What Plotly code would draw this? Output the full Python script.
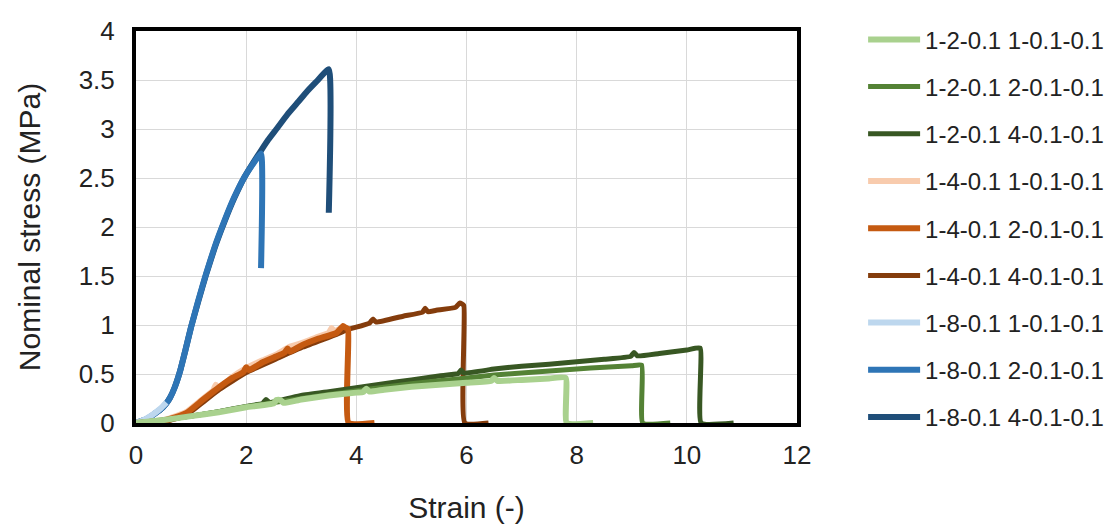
import plotly.graph_objects as go

names = ["1-2-0.1 1-0.1-0.1", "1-2-0.1 2-0.1-0.1", "1-2-0.1 4-0.1-0.1",
         "1-4-0.1 1-0.1-0.1", "1-4-0.1 2-0.1-0.1", "1-4-0.1 4-0.1-0.1",
         "1-8-0.1 1-0.1-0.1", "1-8-0.1 2-0.1-0.1", "1-8-0.1 4-0.1-0.1"]
colors = ["#a9d18e", "#548235", "#385723",
          "#f8cbad", "#c55a11", "#843c0c",
          "#bdd7ee", "#2e75b6", "#1f4e79"]

# 1-2-0.1 series (green)
g1_x = [0, 0.5, 1.0, 1.5, 2.0, 2.5, 2.55, 2.62, 2.68, 3.0, 3.5, 4.0, 4.12, 4.18, 4.24, 4.5, 5.0, 5.5, 6.0,
        6.45, 6.5, 6.56, 7.0, 7.5, 7.8, 7.82, 8.3]
g1_y = [0, 0.03, 0.07, 0.11, 0.16, 0.20, 0.235, 0.235, 0.205, 0.24, 0.28, 0.31, 0.315, 0.35, 0.32, 0.34, 0.37, 0.39, 0.41,
        0.43, 0.46, 0.43, 0.44, 0.455, 0.46, 0, 0]
g2_x = [0, 0.5, 1.0, 1.5, 2.0, 2.5, 3.0, 3.5, 4.0, 4.5, 5.0, 5.5, 6.0, 6.5, 7.0, 7.5, 8.0, 8.5, 9.0, 9.18, 9.2, 9.7]
g2_y = [0, 0.03, 0.07, 0.115, 0.165, 0.21, 0.25, 0.29, 0.33, 0.365, 0.40, 0.43, 0.46, 0.49, 0.51, 0.53, 0.55, 0.57, 0.585, 0.59, 0, 0]
g3_x = [0, 0.5, 1.0, 1.5, 2.0, 2.3, 2.36, 2.42, 3.0, 3.5, 4.0, 4.5, 5.0, 5.5, 5.85, 5.9, 5.95, 6.5, 7.0, 7.5, 8.0, 8.5,
        8.98, 9.04, 9.1, 9.5, 10.0, 10.24, 10.26, 10.85]
g3_y = [0, 0.03, 0.07, 0.115, 0.17, 0.20, 0.24, 0.21, 0.28, 0.32, 0.36, 0.40, 0.44, 0.48, 0.505, 0.54, 0.51, 0.55, 0.58, 0.60, 0.625, 0.65,
        0.68, 0.72, 0.685, 0.71, 0.745, 0.765, 0, 0]

# 1-4-0.1 series (orange)
o1_x = [0, 0.36, 0.6, 0.91, 1.21, 1.4, 1.45, 1.5, 1.75, 2.0, 2.3, 2.55, 2.8, 3.03, 3.3, 3.5, 3.55, 3.6, 3.7]
o1_y = [0, 0.015, 0.045, 0.11, 0.245, 0.33, 0.39, 0.35, 0.47, 0.56, 0.64, 0.70, 0.78, 0.82, 0.88, 0.92, 0.97, 0.935, 0.96]
o2_x = [0, 0.36, 0.6, 0.91, 1.21, 1.52, 1.75, 1.95, 2.0, 2.05, 2.3, 2.55, 2.7, 2.75, 2.8, 3.03, 3.3, 3.64, 3.76, 3.8, 3.85, 3.86, 4.33]
o2_y = [0, 0.01, 0.04, 0.10, 0.235, 0.37, 0.46, 0.52, 0.57, 0.54, 0.62, 0.68, 0.72, 0.76, 0.73, 0.80, 0.86, 0.92, 0.99, 0.975, 0.96, 0, 0]
o3_x = [0, 0.36, 0.6, 0.91, 1.21, 1.52, 2.0, 2.55, 3.03, 3.64, 3.85, 4.24, 4.3, 4.36, 4.85, 5.2, 5.25, 5.3, 5.45, 5.8, 5.88, 5.95, 5.97, 6.4]
o3_y = [0, 0.005, 0.025, 0.08, 0.21, 0.345, 0.515, 0.655, 0.775, 0.905, 0.955, 1.02, 1.06, 1.03, 1.09, 1.13, 1.17, 1.135, 1.15, 1.18, 1.225, 1.2, 0, 0]

# 1-8-0.1 series (blue)
b1_x = [0, 0.15, 0.3, 0.45, 0.55]
b1_y = [0, 0.035, 0.085, 0.15, 0.21]
b2_x = [0, 0.15, 0.3, 0.45, 0.55, 0.62, 0.7, 0.8, 0.9, 1.0, 1.13, 1.27, 1.43, 1.61, 1.78, 1.97, 2.12, 2.27, 2.27]
b2_y = [0, 0.03, 0.08, 0.14, 0.20, 0.26, 0.36, 0.53, 0.75, 0.98, 1.25, 1.52, 1.80, 2.07, 2.30, 2.51, 2.64, 2.75, 1.58]
b3_x = [0, 0.15, 0.3, 0.45, 0.55, 0.62, 0.7, 0.8, 0.9, 1.0, 1.13, 1.27, 1.43, 1.61, 1.78, 1.97, 2.12, 2.27, 2.4,
        2.55, 2.75, 2.95, 3.1, 3.27, 3.5, 3.5]
b3_y = [0, 0.03, 0.08, 0.14, 0.20, 0.26, 0.36, 0.53, 0.75, 0.98, 1.24, 1.51, 1.79, 2.06, 2.29, 2.51, 2.65, 2.78, 2.89,
        3.00, 3.15, 3.28, 3.38, 3.48, 3.61, 2.145]

xs = [g1_x, g2_x, g3_x, o1_x, o2_x, o3_x, b1_x, b2_x, b3_x]
ys = [g1_y, g2_y, g3_y, o1_y, o2_y, o3_y, b1_y, b2_y, b3_y]
widths = [6, 5, 5, 6, 6, 5, 6, 6, 6]

fig = go.Figure()
# drawing order (bottom to top); legend order kept via legendrank
draw_order = [8, 7, 6, 3, 5, 4, 2, 1, 0]
for i in draw_order:
    fig.add_trace(go.Scatter(
        x=xs[i], y=ys[i], mode="lines", name=names[i],
        line=dict(color=colors[i], width=widths[i], shape="spline", smoothing=0.4),
        legendrank=i + 1, legendgroup=f"g{i}",
    ))

font_family = "Liberation Sans, Arial, sans-serif"
txt = "#222222"
fig.update_layout(
    width=1112, height=524,
    margin=dict(l=136, r=315, t=31, b=101, autoexpand=False),
    paper_bgcolor="white", plot_bgcolor="white",
    font=dict(family=font_family, color=txt),
    showlegend=True,
    legend=dict(x=1.1, y=1.035, xanchor="left", yanchor="top",
                maxheight=490,
                font=dict(size=24, color=txt), itemwidth=52,
                tracegroupgap=13, bgcolor="rgba(0,0,0,0)"),
    xaxis=dict(range=[0, 12], dtick=2, tick0=0,
               showgrid=True, gridcolor="#d9d9d9", gridwidth=1,
               showline=True, linecolor="black", linewidth=4, mirror=True,
               zeroline=False, ticks="", ticklabelstandoff=6,
               tickfont=dict(size=26, color=txt),
               title=dict(text="Strain (-)", font=dict(size=30, color=txt), standoff=30)),
    yaxis=dict(range=[0, 4], dtick=0.5, tick0=0,
               showgrid=True, gridcolor="#d9d9d9", gridwidth=1,
               showline=True, linecolor="black", linewidth=4, mirror=True,
               zeroline=False, ticks="", ticklabelstandoff=12,
               tickfont=dict(size=26, color=txt),
               title=dict(text="Nominal stress (MPa)", font=dict(size=30, color=txt), standoff=30)),
)

fig.write_html("out.html")
